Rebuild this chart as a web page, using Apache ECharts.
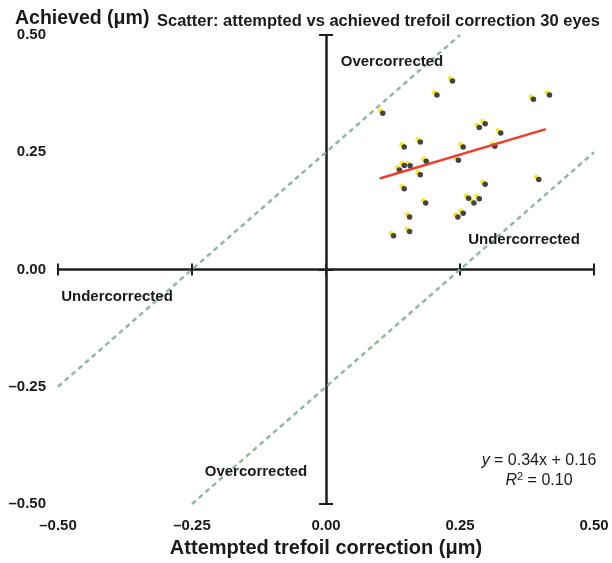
<!DOCTYPE html>
<html><head><meta charset="utf-8">
<script src="https://cdn.jsdelivr.net/npm/echarts@6/dist/echarts.min.js"></script>
<style>html,body{margin:0;padding:0;background:#fff}#c{width:612px;height:563px}</style>
</head><body><div id="c"></div>
<script>
// ---- data ----
const attempted = [0.236,0.207,0.387,0.417,0.106,0.286,0.297,0.326,0.146,0.176,0.256,0.315,0.187,0.247,0.146,0.157,0.137,0.176,0.146,0.297,0.397,0.266,0.286,0.276,0.186,0.256,0.246,0.156,0.126,0.156];
const achieved  = [0.402,0.372,0.363,0.372,0.333,0.303,0.311,0.291,0.261,0.272,0.261,0.263,0.231,0.233,0.222,0.221,0.212,0.202,0.172,0.182,0.192,0.152,0.151,0.142,0.142,0.120,0.112,0.112,0.072,0.081];
const axisMin = -0.5, axisMax = 0.5, axisStep = 0.25;
const slope = 0.34, intercept = 0.16, rSquared = 0.10;
const fitXRange = [0.10, 0.41];
const upperBoundLine = [[-0.5, -0.25], [0.25, 0.5]];
const lowerBoundLine = [[-0.25, -0.5], [0.5, 0.25]];
const titleText = 'Scatter: attempted vs achieved trefoil correction 30 eyes';
const xName = 'Attempted trefoil correction (μm)';
const yName = 'Achieved (μm)';

const FONT = '"Liberation Sans", Arial, Helvetica, sans-serif';
const points = attempted.map((x, i) => [x, achieved[i]]);
const fitLine = fitXRange.map(x => [x, slope * x + intercept]);
const fmt = v => (v < 0 ? '–' : '') + Math.abs(v).toFixed(2);

const labelStyle = {color: '#1a1a1a', fontFamily: FONT, fontWeight: 'bold', fontSize: 15, formatter: fmt};
const base = {type: 'value', min: axisMin, max: axisMax, interval: axisStep, splitLine: {show: false}};
const lineStyle = {color: '#1e1e1e', width: 2.5};
const tickStyle = {color: '#1e1e1e', width: 2};

const chart = echarts.init(document.getElementById('c'), null, {renderer: 'canvas'});
chart.setOption({
  animation: false,
  backgroundColor: '#fff',
  title: [
    {text: titleText, left: 152, top: 8, textStyle: {fontFamily: FONT, fontWeight: 'bold', fontSize: 16.5, color: '#1a1a1a'}},
    {text: yName, left: 10, top: 4, textStyle: {fontFamily: FONT, fontWeight: 'bold', fontSize: 19.5, color: '#1a1a1a'}}
  ],
  grid: {left: 58, right: 18, top: 35, bottom: 59, containLabel: false},
  xAxis: [
    Object.assign({}, base, {position: 'bottom', axisLine: {show: false, onZero: false}, axisTick: {show: false},
      axisLabel: Object.assign({margin: 14}, labelStyle),
      name: xName, nameLocation: 'middle', nameGap: 34,
      nameTextStyle: {fontFamily: FONT, fontWeight: 'bold', fontSize: 20, color: '#1a1a1a'}}),
    Object.assign({}, base, {position: 'bottom', axisLine: {show: true, onZero: true, onZeroAxisIndex: 0, lineStyle: lineStyle},
      axisTick: {show: true, inside: false, length: 6, lineStyle: tickStyle}, axisLabel: {show: false}}),
    Object.assign({}, base, {position: 'bottom', axisLine: {show: false, onZero: true, onZeroAxisIndex: 0},
      axisTick: {show: true, inside: true, length: 6, lineStyle: tickStyle}, axisLabel: {show: false}})
  ],
  yAxis: [
    Object.assign({}, base, {position: 'left', axisLine: {show: false, onZero: false}, axisTick: {show: false},
      axisLabel: Object.assign({margin: 12}, labelStyle)}),
    Object.assign({}, base, {position: 'left', interval: 0.5, axisLine: {show: true, onZero: true, onZeroAxisIndex: 0, lineStyle: lineStyle},
      axisTick: {show: true, inside: false, length: 7, lineStyle: tickStyle}, axisLabel: {show: false}}),
    Object.assign({}, base, {position: 'left', interval: 0.5, axisLine: {show: false, onZero: true, onZeroAxisIndex: 0},
      axisTick: {show: true, inside: true, length: 7, lineStyle: tickStyle}, axisLabel: {show: false}})
  ],
  series: [
    {type: 'line', data: upperBoundLine, showSymbol: false, silent: true, z: 1,
      lineStyle: {color: '#8fb89e', width: 2.5, type: [5, 4]}},
    {type: 'line', data: lowerBoundLine, showSymbol: false, silent: true, z: 1,
      lineStyle: {color: '#8fb89e', width: 2.5, type: [5, 4]}},
    {type: 'scatter', data: points, symbol: 'circle', symbolSize: 5, symbolOffset: [-2.5, -2.5],
      itemStyle: {color: '#f5e300'}, silent: true, z: 3},
    {type: 'scatter', data: points, symbol: 'circle', symbolSize: 5.5,
      itemStyle: {color: '#141414'}, silent: true, z: 4},
    {type: 'line', data: fitLine, showSymbol: false, silent: true, z: 5,
      lineStyle: {color: '#ea3f28', width: 2.5}}
  ],
  graphic: [
    {type: 'text', z: 10, style: {text: 'Overcorrected', x: 392, y: 62, align: 'center', verticalAlign: 'middle', font: 'bold 15px ' + FONT, fill: '#1a1a1a'}},
    {type: 'text', z: 10, style: {text: 'Undercorrected', x: 524, y: 240, align: 'center', verticalAlign: 'middle', font: 'bold 15px ' + FONT, fill: '#1a1a1a'}},
    {type: 'text', z: 10, style: {text: 'Undercorrected', x: 117, y: 297, align: 'center', verticalAlign: 'middle', font: 'bold 15px ' + FONT, fill: '#1a1a1a'}},
    {type: 'text', z: 10, style: {text: 'Overcorrected', x: 256, y: 472, align: 'center', verticalAlign: 'middle', font: 'bold 15px ' + FONT, fill: '#1a1a1a'}},
    {type: 'text', z: 10, style: {
      text: '{i|y} = ' + slope.toFixed(2) + 'x + ' + intercept.toFixed(2),
      x: 539, y: 461, align: 'center', verticalAlign: 'middle', font: '16px ' + FONT, fill: '#1a1a1a',
      rich: {i: {fontStyle: 'italic', fontFamily: FONT, fontSize: 16, fill: '#1a1a1a'}}}},
    {type: 'text', z: 10, style: {
      text: '{i|R}{s|2} = ' + rSquared.toFixed(2),
      x: 539, y: 481, align: 'center', verticalAlign: 'middle', font: '16px ' + FONT, fill: '#1a1a1a',
      rich: {i: {fontStyle: 'italic', fontFamily: FONT, fontSize: 16, fill: '#1a1a1a'},
             s: {fontFamily: FONT, fontSize: 11, verticalAlign: 'top', padding: [0, 0, 8, 0], fill: '#1a1a1a'}}}}
  ]
});
</script></body></html>
